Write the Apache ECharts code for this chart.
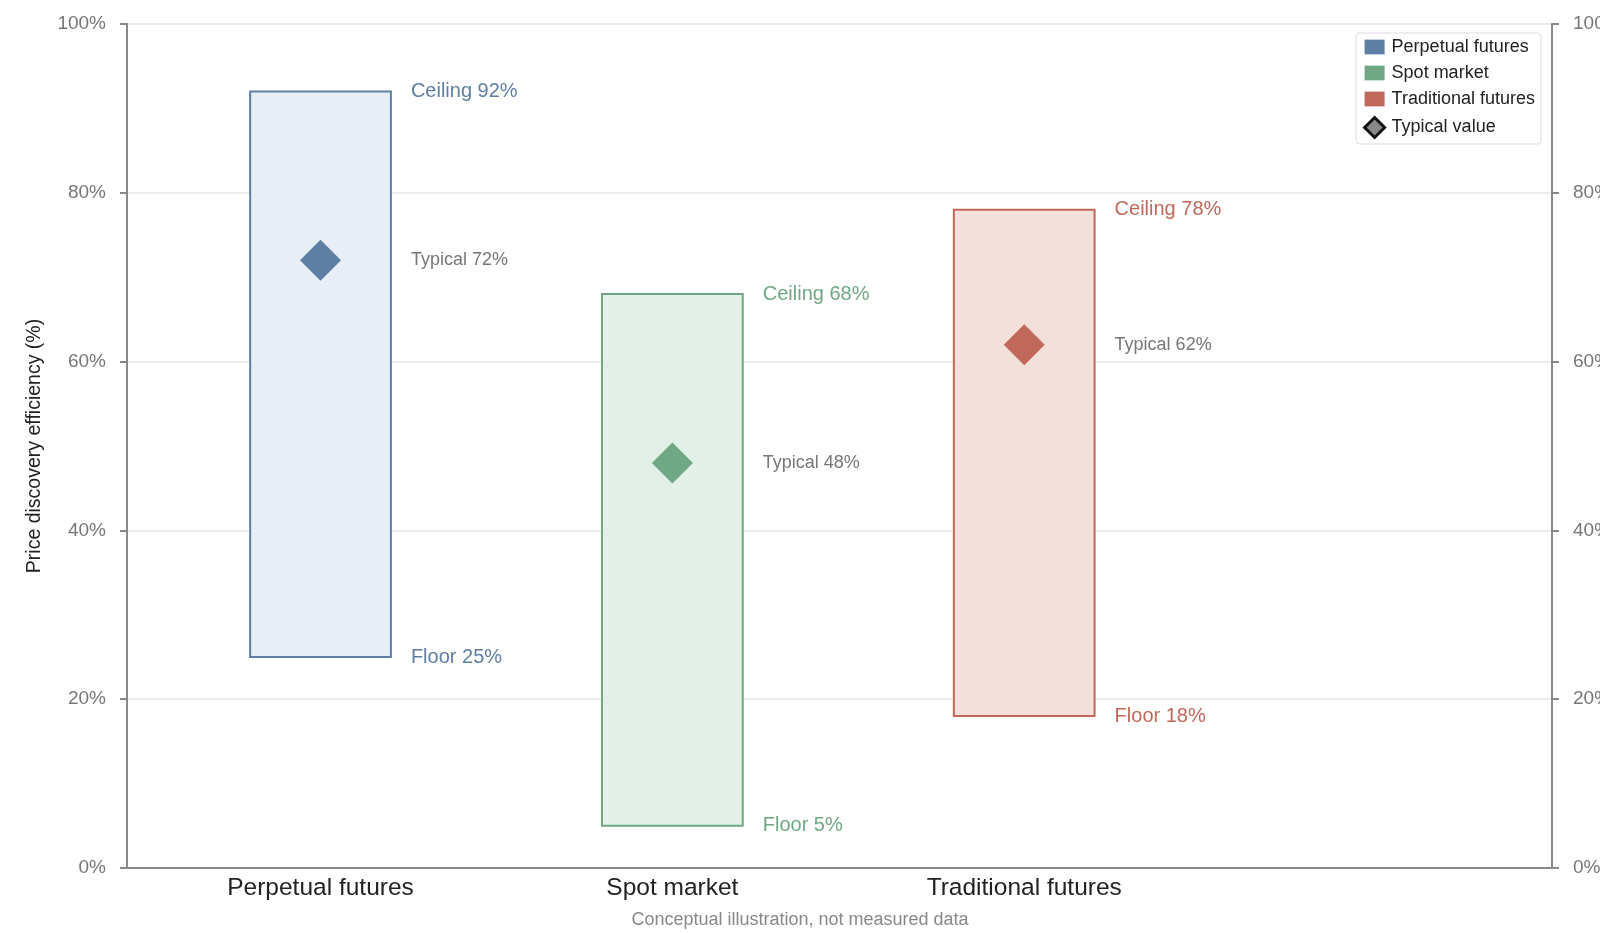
<!DOCTYPE html>
<html>
<head>
<meta charset="utf-8">
<script src="https://cdn.jsdelivr.net/npm/echarts@6/dist/echarts.min.js"></script>
<style>
  html, body { margin: 0; padding: 0; background: #fff; }
  #chart { width: 1600px; height: 933px; }
</style>
</head>
<body>
<div id="chart"></div>
<script type="text/javascript">
	// values
	var categories = ['Perpetual futures', 'Spot market', 'Traditional futures'];
	var floors = [25, 5, 18];
	var ceilings = [92, 68, 78];
	var typicals = [72, 48, 62];
	var yTicks = [0, 20, 40, 60, 80, 100];

	var strokeColors = ['#5e7fa3', '#6fa885', '#c0685a'];
	var fillColors = ['#e8eef6', '#e3f0e8', '#f4e0db'];
	var font = '"Liberation Sans", Arial, sans-serif';

	var chart = echarts.init(document.getElementById('chart'));

	// one custom series per category: box + text labels
	function boxSeries(i) {
		return {
			name: categories[i],
			type: 'custom',
			xAxisIndex: 0,
			yAxisIndex: 0,
			itemStyle: { color: strokeColors[i] },
			data: [[i, floors[i], ceilings[i], typicals[i]]],
			z: 2,
			renderItem: function (params, api) {
				var x = api.value(0);
				var p1 = api.coord([x - 0.2, api.value(2)]);
				var p2 = api.coord([x + 0.2, api.value(1)]);
				var pt = api.coord([x + 0.2, api.value(3)]);
				var tx = p2[0] + 20;
				return {
					type: 'group',
					children: [{
						type: 'rect',
						shape: { x: p1[0], y: p1[1], width: p2[0] - p1[0], height: p2[1] - p1[1] },
						style: { fill: fillColors[i], stroke: strokeColors[i], lineWidth: 2 }
					}, {
						type: 'text',
						style: {
							x: tx, y: p1[1], text: 'Ceiling ' + api.value(2) + '%',
							fill: strokeColors[i], font: '20px ' + font, verticalAlign: 'middle'
						}
					}, {
						type: 'text',
						style: {
							x: tx, y: pt[1], text: 'Typical ' + api.value(3) + '%',
							fill: '#777', font: '18px ' + font, verticalAlign: 'middle'
						}
					}, {
						type: 'text',
						style: {
							x: tx, y: p2[1], text: 'Floor ' + api.value(1) + '%',
							fill: strokeColors[i], font: '20px ' + font, verticalAlign: 'middle'
						}
					}]
				};
			}
		};
	}

	var typicalData = [];
	for (var i = 0; i < categories.length; i++) {
		typicalData.push({ value: [i, typicals[i]], itemStyle: { color: strokeColors[i] } });
	}

	var yAxisCommon = {
		type: 'value',
		min: 0,
		max: 100,
		interval: 20,
		axisLine: { show: true, onZero: false, lineStyle: { color: '#888', width: 2 } },
		axisTick: { show: true, length: 7, lineStyle: { color: '#888', width: 2 } },
		axisLabel: {
			color: '#777', fontSize: 19, fontFamily: font, margin: 21,
			formatter: function (v) { return yTicks.indexOf(v) >= 0 ? v + '%' : ''; }
		}
	};

	var rectIcon = 'path://M0,0h19v14h-19z';
	var diamondIcon = 'path://M10,0L20,10L10,20L0,10z';

	var option = {
		animation: false,
		textStyle: { fontFamily: font },
		grid: { left: 127, right: 48, top: 24, bottom: 65, outerBoundsMode: 'none', containLabel: false },
		title: {
			text: 'Conceptual illustration, not measured data',
			left: 'center',
			top: 906,
			textStyle: { color: '#888', fontSize: 18, fontWeight: 'normal', fontFamily: font }
		},
		legend: {
			right: 59,
			top: 33,
			orient: 'vertical',
			itemGap: 8,
			itemWidth: 20,
			itemHeight: 22,
			symbolKeepAspect: true,
			padding: [5, 6, 5, 7],
			borderColor: '#ddd',
			borderWidth: 1,
			borderRadius: 3,
			backgroundColor: '#fff',
			textStyle: { fontSize: 18, color: '#222', fontFamily: font, padding: [0, 0, 0, 2] },
			data: [
				{ name: categories[0], icon: rectIcon },
				{ name: categories[1], icon: rectIcon },
				{ name: categories[2], icon: rectIcon },
				{ name: 'Typical value', icon: diamondIcon,
				  itemStyle: { color: '#888', borderColor: '#111', borderWidth: 3 } }
			]
		},
		xAxis: {
			type: 'value',
			min: -0.55,
			max: 3.5,
			splitLine: { show: false },
			axisLine: { show: true, onZero: false, lineStyle: { color: '#888', width: 2 } },
			axisTick: { show: false },
			axisLabel: {
				customValues: [0, 1, 2],
				color: '#222', fontSize: 24.5, fontFamily: font, margin: 8,
				formatter: function (v) { return categories[Math.round(v)] || ''; }
			}
		},
		yAxis: [
			echarts.util.merge({
				position: 'left',
				name: 'Price discovery efficiency (%)',
				nameLocation: 'middle',
				nameGap: 82,
				nameTextStyle: { color: '#222', fontSize: 19.5, fontFamily: font },
				splitLine: { show: true, lineStyle: { color: '#e6e6e6', width: 1.5 } }
			}, yAxisCommon, true),
			echarts.util.merge({
				position: 'right',
				splitLine: { show: false }
			}, yAxisCommon, true)
		],
		series: [
			boxSeries(0),
			boxSeries(1),
			boxSeries(2),
			{
				name: 'Typical value',
				type: 'scatter',
				symbol: 'diamond',
				symbolSize: 41,
				z: 5,
				itemStyle: { opacity: 1 },
				data: typicalData
			}
		]
	};

	chart.setOption(option);
</script>
</body>
</html>
